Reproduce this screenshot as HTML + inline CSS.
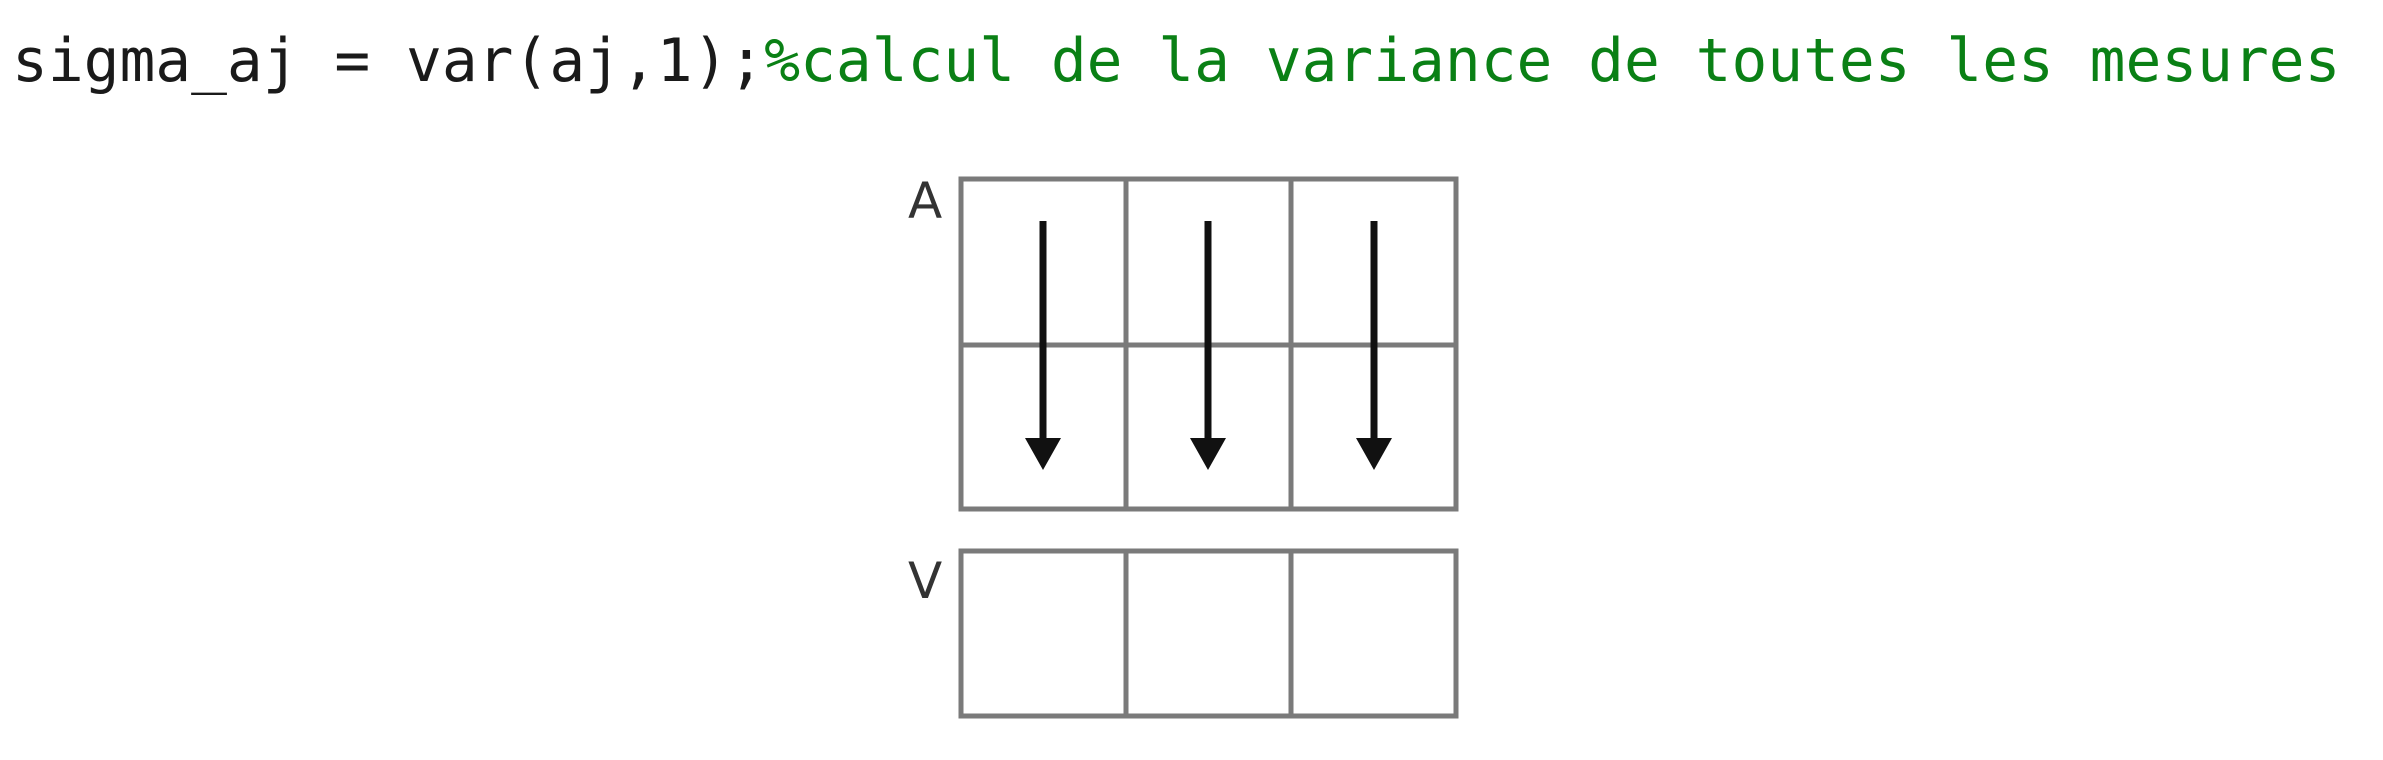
<!DOCTYPE html>
<html><head><meta charset="utf-8"><style>
html,body{margin:0;padding:0;background:#fff;width:2383px;height:760px;overflow:hidden}
.code{position:absolute;left:12px;top:22px;font-family:"DejaVu Sans Mono","Liberation Mono",monospace;font-size:59.5px;line-height:80px;color:#1a1a1a;white-space:pre}
.c{color:#0a8015}
svg{position:absolute;left:0;top:0}
</style></head><body>
<div class="code">sigma_aj = var(aj,1);<span class="c">%calcul de la variance de toutes les mesures</span></div>
<svg width="2383" height="760">
<g stroke="#7a7a7a" stroke-width="5" fill="none">
<rect x="961" y="179" width="495" height="330"/>
<line x1="961" y1="345" x2="1456" y2="345"/>
<line x1="1126" y1="179" x2="1126" y2="509"/>
<line x1="1291" y1="179" x2="1291" y2="509"/>
<rect x="961" y="551" width="495" height="165"/>
<line x1="1126" y1="551" x2="1126" y2="716"/>
<line x1="1291" y1="551" x2="1291" y2="716"/>
</g>
<g stroke="#111" stroke-width="7">
<line x1="1043" y1="221" x2="1043" y2="445"/>
<line x1="1208" y1="221" x2="1208" y2="445"/>
<line x1="1374" y1="221" x2="1374" y2="445"/>
</g>
<g fill="#111">
<polygon points="1025,438 1061,438 1043,470"/>
<polygon points="1190,438 1226,438 1208,470"/>
<polygon points="1356,438 1392,438 1374,470"/>
</g>
<g font-family="DejaVu Sans, Liberation Sans, sans-serif" font-size="50" fill="#333">
<text x="908" y="218">A</text>
<text x="908" y="598">V</text>
</g>
</svg>
</body></html>
